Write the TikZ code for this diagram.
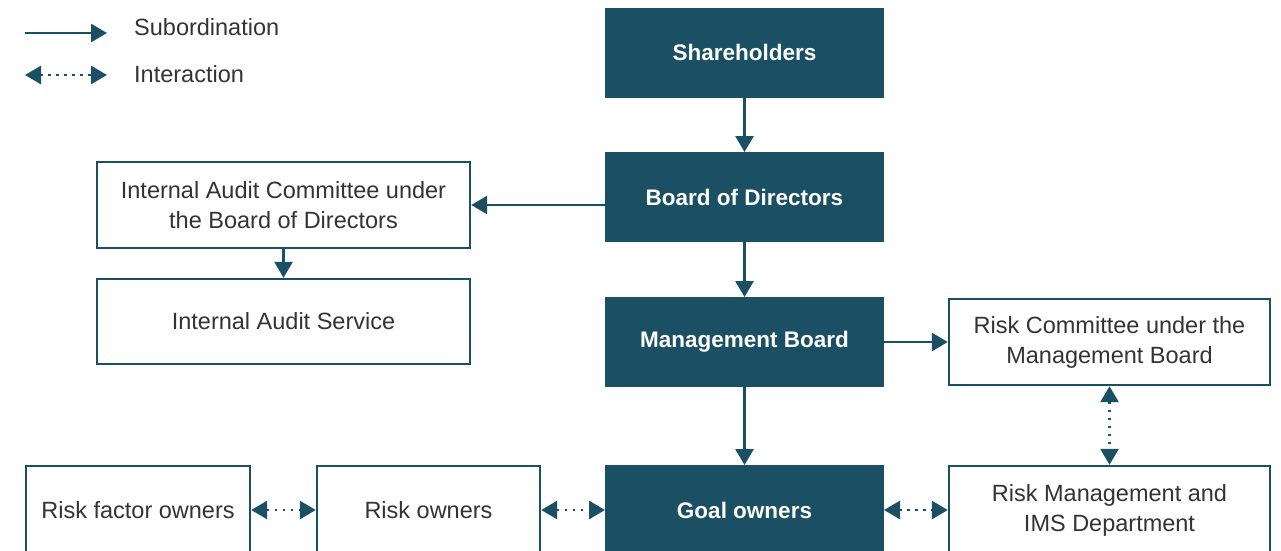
\documentclass[tikz,border=0pt]{standalone}
\usepackage{fontspec}
\setmainfont{Liberation Sans}
\usetikzlibrary{arrows.meta}
\definecolor{teal}{HTML}{1B5064}
\definecolor{txt}{HTML}{333333}
\begin{document}
\begin{tikzpicture}[x=1pt,y=-1pt,
  darkbox/.style={draw=teal,fill=teal,line width=1pt,text=white,font=\fontsize{22.5}{30}\selectfont\bfseries,minimum width=278pt,minimum height=89pt,inner sep=0pt,align=center},
  whitebox/.style={draw=teal,fill=white,line width=2.4pt,text=txt,font=\fontsize{23.5}{30}\selectfont,inner sep=0pt,align=center},
  tip/.tip={Triangle[length=16pt,width=18pt]},
  sub/.style={draw=teal,line width=2.8pt,-tip},
  inter/.style={draw=teal,line width=2.8pt,dash pattern=on 2.6pt off 5.4pt,tip-tip},
  legtext/.style={text=txt,font=\fontsize{23.5}{30}\selectfont,anchor=west,inner sep=0pt}
]
\useasboundingbox (0,0) rectangle (1281,550);
\clip (0,0) rectangle (1281,550);
% main column
\node[darkbox] (sh) at (744.5,52.5) {Shareholders};
\node[darkbox] (bod) at (744.5,197) {Board of Directors};
\node[darkbox] (mb) at (744.5,342) {Management Board};
\node[darkbox] (go) at (744.5,510) {Goal owners};
% left
\node[whitebox,minimum width=373pt,minimum height=86pt] (iac) at (283.5,205) {Internal Audit Committee under\\the Board of Directors};
\node[whitebox,minimum width=373pt,minimum height=85pt] (ias) at (283.5,321.5) {Internal Audit Service};
% right
\node[whitebox,minimum width=321pt,minimum height=86pt] (rc) at (1109.5,342) {Risk Committee under the\\Management Board};
\node[whitebox,minimum width=321pt,minimum height=88pt] (rm) at (1109.5,510) {Risk Management and\\IMS Department};
% bottom left
\node[whitebox,minimum width=224pt,minimum height=88pt] (rfo) at (138,510) {Risk factor owners};
\node[whitebox,minimum width=223pt,minimum height=88pt] (ro) at (428.5,510) {Risk owners};
% connectors
\draw[sub] (sh.south) -- (bod.north);
\draw[sub] (bod.south) -- (mb.north);
\draw[sub] (mb.south) -- (go.north);
\draw[sub] (bod.west |- iac.east) -- (iac.east);
\draw[sub] (iac.south) -- (ias.north);
\draw[sub] (mb.east) -- (rc.west);
\draw[inter] (rc.south) -- (rm.north);
\draw[inter] (go.east) -- (rm.west);
\draw[inter] (ro.east) -- (go.west);
\draw[inter] (rfo.east) -- (ro.west);
% legend
\coordinate (l1a) at (25,33);
\coordinate (l1b) at (107,33);
\coordinate (l2a) at (25,75);
\coordinate (l2b) at (107,75);
\draw[sub] (l1a) -- (l1b);
\draw[inter] (l2a) -- (l2b);
\node[legtext] (lt1) at (134,27) {Subordination};
\node[legtext] (lt2) at (134,74) {Interaction};
\end{tikzpicture}
\end{document}
